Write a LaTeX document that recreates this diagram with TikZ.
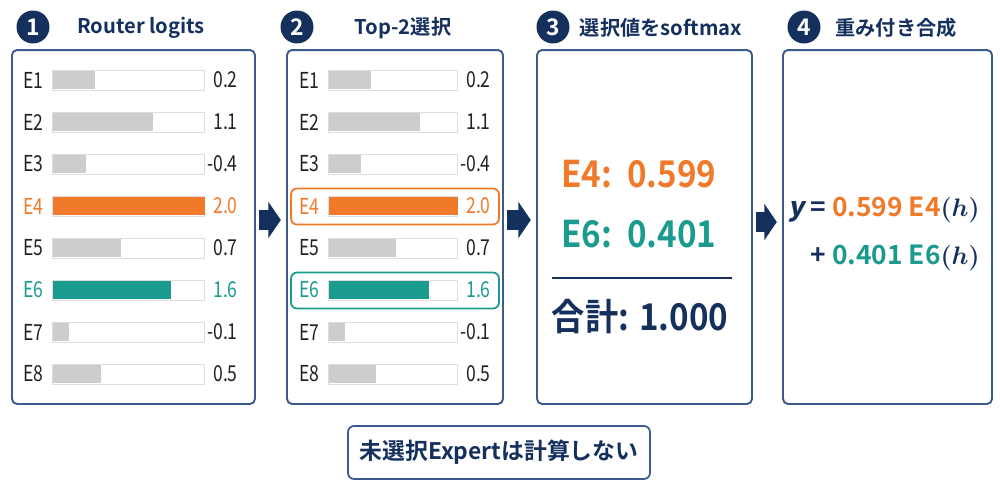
\documentclass[tikz,border=0pt]{standalone}
\usepackage{fontspec}
\setmainfont{Noto Sans CJK JP}[BoldFont={Noto Sans CJK JP Bold}]
\newfontfamily\slfont{Noto Sans CJK JP Bold}[FakeSlant=0.2]
\newfontfamily\rowfont{Noto Sans CJK JP}[FakeStretch=0.8]
\newfontfamily\numfont{Noto Sans CJK JP Bold}[FakeStretch=0.9]
\usetikzlibrary{arrows.meta,positioning}

\definecolor{navy}{HTML}{16305E}
\definecolor{frame}{HTML}{3B5A8F}
\definecolor{accO}{HTML}{F07A2A}
\definecolor{accT}{HTML}{1B9A8E}
\definecolor{barG}{HTML}{CDCDCD}
\definecolor{barline}{HTML}{DDDDDD}
\definecolor{ink}{HTML}{222222}

\tikzset{
	panel/.style={draw=frame, line width=1.1pt, rounded corners=0.1cm, inner sep=0, minimum height=7.08cm},
	numdot/.style={circle, fill=navy, text=white, minimum size=0.66cm, inner sep=0, font=\bfseries\fontsize{13}{15}\selectfont},
	head/.style={text=navy, font=\bfseries\fontsize{11.5}{14}\selectfont},
	rowlab/.style={anchor=west, inner sep=0, font=\rowfont\fontsize{12.5}{15}\selectfont},
	rowval/.style={anchor=east, inner sep=0, font=\rowfont\fontsize{12.5}{15}\selectfont},
	barbox/.style={anchor=west, draw=barline, fill=white, inner sep=0, minimum height=0.4cm},
	barfill/.style={anchor=west, inner sep=0, minimum height=0.37cm},
	pick/.style={draw=#1, line width=1pt, rounded corners=0.12cm, inner sep=0, minimum width=4.16cm, minimum height=0.72cm},
	bignum/.style={font=\numfont\fontsize{21}{25}\selectfont},
	formula/.style={anchor=east, inner sep=0, text=navy, font=\bfseries\boldmath\fontsize{15}{18}\selectfont},
	bigarrow/.style={navy, line width=0.4cm, -{Triangle[length=0.25cm, width=0.72cm]}, shorten <=2pt, shorten >=3pt}
}

\begin{document}
\begin{tikzpicture}[x=0.02cm, y=-0.02cm]
\useasboundingbox (0,0) rectangle (1000,500);

% panels
\node[panel, minimum width=4.86cm] (p1) at (133.5,227) {};
\node[panel, minimum width=4.32cm] (p2) at (395,227) {};
\node[panel, minimum width=4.30cm] (p3) at (644.5,227) {};
\node[panel, minimum width=4.18cm] (p4) at (887.5,227) {};

% headings
\node[numdot] (c1) at (33,27) {1};
\node[numdot] (c2) at (297,27) {2};
\node[numdot] (c3) at (553,27) {3};
\node[numdot] (c4) at (804,27) {4};
\node[head] (t1) at (141,28) {Router logits};
\node[head] (t2) at (403,28) {Top-2選択};
\node[head] (t3) at (661,28) {選択値をsoftmax};
\node[head] (t4) at (896,28) {重み付き合成};

% top-2 marks
\node[pick=accO] (h4) at (395,206.5) {};
\node[pick=accT] (h6) at (395,290.5) {};

% logit rows
\foreach \n/\v/\fa/\fb/\c/\b in {1/0.2/0.28/0.33/ink/barG, 2/1.1/0.66/0.71/ink/barG, 3/-0.4/0.22/0.25/ink/barG,
	4/2.0/1.0/1.0/accO/accO, 5/0.7/0.45/0.52/ink/barG, 6/1.6/0.78/0.78/accT/accT,
	7/-0.1/0.11/0.13/ink/barG, 8/0.5/0.32/0.37/ink/barG}{
	\pgfmathsetmacro\ry{38+42*\n}
	\pgfmathsetmacro\wa{\fa*3.04}
	\pgfmathsetmacro\wb{\fb*2.58}
	% panel 1
	\node[rowlab, text=\c] (a\n) at (23,\ry) {E\n};
	\node[barbox, minimum width=3.04cm] (ab\n) at (52,\ry) {};
	\node[barfill, fill=\b, minimum width=\wa cm] (af\n) at (52.3,\ry) {};
	\node[rowval, text=\c] (av\n) at (238,\ry) {\v};
	% panel 2
	\node[rowlab, text=\c] (b\n) at (299,\ry) {E\n};
	\node[barbox, minimum width=2.58cm] (bb\n) at (328,\ry) {};
	\node[barfill, fill=\b, minimum width=\wb cm] (bf\n) at (328.3,\ry) {};
	\node[rowval, text=\c] (bv\n) at (491,\ry) {\v};
}

% softmax
\node[bignum, text=accO] (s4) at (639,174) {E4:\ \ 0.599};
\node[bignum, text=accT] (s6) at (639,234) {E6:\ \ 0.401};
\coordinate (r1) at (552,278);
\coordinate (r2) at (732,278);
\draw[navy, line width=1pt] (r1) -- (r2);
\node[bignum, text=navy] (sum) at (640,317) {合計: 1.000};

% weighted sum
\node[formula] (f1) at (980,210) {{\slfont y}\ = \textcolor{accO}{0.599 E4}$(h)$};
\node[formula] (f2) at (980,258) {+ \textcolor{accT}{0.401 E6}$(h)$};

% note
\node[draw=frame, line width=1pt, rounded corners=0.12cm, minimum width=6.04cm, minimum height=1.06cm,
	text=navy, font=\bfseries\fontsize{13}{16}\selectfont] (note) at (499,452.5) {未選択Expertは計算しない};

\draw[bigarrow] ([yshift=0.14cm]p1.east) -- ([yshift=0.14cm]p2.west);
\draw[bigarrow] ([yshift=0.14cm]p2.east) -- ([yshift=0.14cm]p3.west);
\draw[bigarrow] ([yshift=0.1cm]p3.east) -- ([yshift=0.1cm]p4.west);
\end{tikzpicture}
\end{document}
